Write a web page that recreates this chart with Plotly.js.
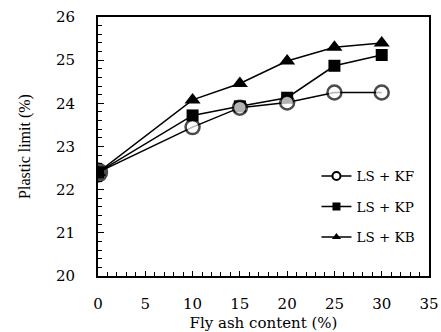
<!DOCTYPE html>
<html><head><meta charset="utf-8">
<script src="https://cdn.plot.ly/plotly-3.0.1.min.js"></script>
<style>html,body{margin:0;padding:0;background:#fff}</style>
</head><body><div id="chart" style="width:441px;height:332px"></div>
<script>
const flyAsh = [0, 10, 15, 20, 25, 30];
const lsKF = [22.4, 23.45, 23.9, 24.02, 24.25, 24.25];
const lsKP = [22.4, 23.72, 23.93, 24.13, 24.87, 25.12];
const lsKB = [22.4, 24.08, 24.46, 24.98, 25.3, 25.4];
const seriesNames = ['LS + KF', 'LS + KP', 'LS + KB'];
const xTicks = [0, 5, 10, 15, 20, 25, 30, 35];
const yTicks = [20, 21, 22, 23, 24, 25, 26];

const wide = {family: 'DejaVu Serif, serif', color: '#000'};
const narrow = {family: 'Liberation Serif, serif', color: '#000'};
const ln = {color: '#000', width: 1.5};
const data = [
  // plotted series
  {x: flyAsh, y: lsKB, mode: 'lines+markers', showlegend: false, line: ln,
   marker: {symbol: 'triangle-up', size: 14, color: '#000'}},
  {x: flyAsh, y: lsKP, mode: 'lines+markers', showlegend: false, line: ln,
   marker: {symbol: 'square', size: 12, color: '#000'}},
  {x: flyAsh, y: lsKF, mode: 'lines+markers', showlegend: false, line: ln,
   marker: {symbol: 'circle', size: [18, 14, 14, 14, 14, 14],
            color: ['#000', '#fff', '#fff', '#fff', '#fff', '#fff'],
            line: {color: '#000', width: 2.5}}},
  // legend entries
  {x: [null], y: [null], name: seriesNames[0], legendgroup: 'a', mode: 'lines+markers', line: ln,
   marker: {symbol: 'circle', size: 8, color: '#fff', line: {color: '#000', width: 2}}},
  {x: [null], y: [null], name: seriesNames[1], legendgroup: 'b', mode: 'lines+markers', line: ln,
   marker: {symbol: 'square', size: 8, color: '#000'}},
  {x: [null], y: [null], name: seriesNames[2], legendgroup: 'c', mode: 'lines+markers', line: ln,
   marker: {symbol: 'triangle-up', size: 8, color: '#000'}}
];
const layout = {
  width: 441, height: 332,
  margin: {l: 98, r: 12, t: 17, b: 56},
  paper_bgcolor: '#fff', plot_bgcolor: '#fff',
  font: Object.assign({size: 13}, wide),
  showlegend: true,
  legend: {x: 0.66, y: 0.445, xanchor: 'left', yanchor: 'top', traceorder: 'grouped',
           bgcolor: 'rgba(0,0,0,0)', font: Object.assign({size: 13.5}, wide),
           tracegroupgap: 10, itemclick: false},
  xaxis: {range: [0, 35], tickvals: xTicks, ticktext: xTicks.map(String),
          showgrid: false, zeroline: false, showline: true, linecolor: '#000', linewidth: 2,
          mirror: true, ticks: 'inside', ticklen: 5, tickcolor: '#000', tickwidth: 1,
          minor: {dtick: 1, ticks: 'inside', ticklen: 4, tickcolor: '#000', tickwidth: 1},
          tickfont: Object.assign({size: 15}, wide), ticklabelstandoff: 13,
          title: {text: 'Fly ash content (%)', font: Object.assign({size: 15}, wide), standoff: 6}},
  yaxis: {range: [20, 26], tickvals: yTicks, ticktext: yTicks.map(String),
          showgrid: false, zeroline: false, showline: true, linecolor: '#000', linewidth: 2,
          mirror: true, ticks: 'inside', ticklen: 6, tickcolor: '#000', tickwidth: 1,
          minor: {dtick: 0.2, ticks: 'inside', ticklen: 4, tickcolor: '#000', tickwidth: 1},
          tickfont: Object.assign({size: 15}, wide), ticklabelstandoff: 18,
          title: {text: 'Plastic limit (%)', font: Object.assign({size: 16}, narrow), standoff: 21}}
};
Plotly.newPlot('chart', data, layout, {displayModeBar: false, staticPlot: true});
</script></body></html>
